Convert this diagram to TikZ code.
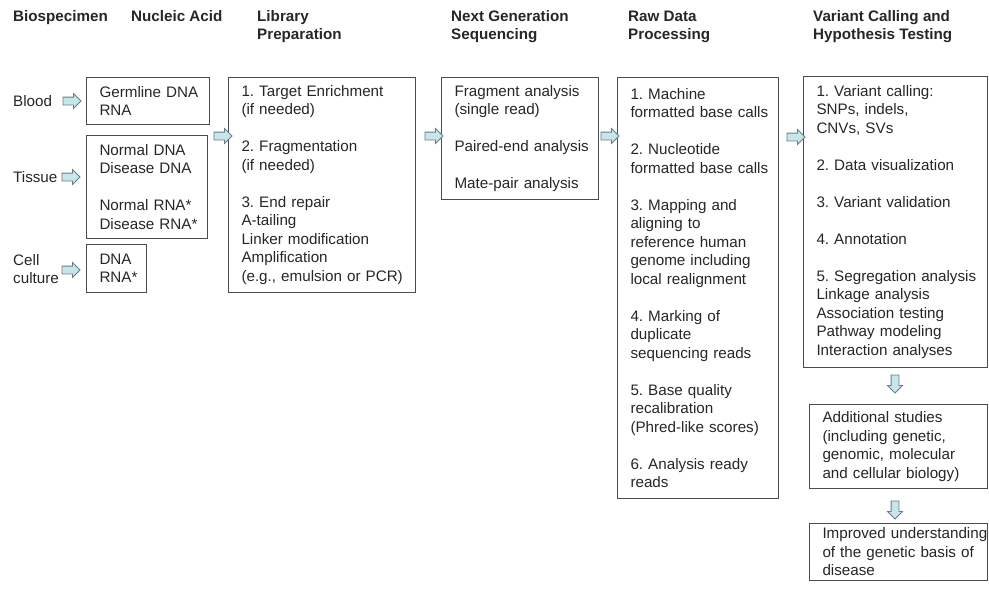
\documentclass[tikz,border=0pt]{standalone}
\usepackage{fontspec}
\setmainfont{Liberation Sans}
\usetikzlibrary{shapes.arrows}
\definecolor{arrfill}{HTML}{C6E6EA}
\definecolor{arrline}{HTML}{6C7C84}
\newcommand{\nohyph}{\hyphenpenalty=10000\relax\exhyphenpenalty=10000\relax}

\begin{document}
\begin{tikzpicture}[x=1pt,y=-1pt,
  txt/.style={font=\fontsize{15.2}{18.5}\selectfont\nohyph, text=black!85, inner sep=0pt, align=left},
  hdr/.style={txt, font=\fontsize{15.2}{18.5}\selectfont\bfseries, anchor=base west},
  box/.style={txt, draw=black!70, line width=1pt, anchor=north west, inner xsep=13pt},
  arr/.style={single arrow, draw=arrline, fill=arrfill, line width=0.8pt, minimum height=18pt, inner xsep=0pt, inner ysep=3.5pt, single arrow head extend=3.5pt, single arrow head indent=0pt}]
\useasboundingbox (0,0) rectangle (989,590);
\node[hdr] (hbio) at (13,21) {Biospecimen};
\node[hdr] (hnuc) at (131,21) {Nucleic Acid};
\node[hdr] (hlib) at (257,39.5) {Library\\Preparation};
\node[hdr] (hngs) at (451,39.5) {Next Generation\\Sequencing};
\node[hdr] (hraw) at (628,39.5) {Raw Data\\Processing};
\node[hdr] (hvar) at (813,39.5) {Variant Calling and\\Hypothesis Testing};
\node[txt, anchor=west] (blood) at (13,101) {Blood};
\node[txt, anchor=west] (tissue) at (13,177) {Tissue};
\node[txt, anchor=west] (cell) at (13,269) {Cell\\culture};
\node[box, text width=97pt, minimum height=47pt] (germ) at (86,77) {Germline~DNA\\RNA};
\node[box, text width=95pt, minimum height=103pt] (tis) at (86,135) {Normal~DNA\\Disease~DNA\\[18.5pt]Normal~RNA*\\Disease~RNA*};
\node[box, text width=34pt, minimum height=48pt] (cul) at (86,244) {DNA\\RNA*};
\node[box, text width=161pt, minimum height=215pt] (lib) at (228,77) {1.~Target~Enrichment\\(if~needed)\\[18.5pt]2.~Fragmentation\\(if~needed)\\[18.5pt]3.~End~repair\\A-tailing\\Linker~modification\\Amplification\\(e.g.,~emulsion~or~PCR)};
\node[box, text width=131pt, minimum height=122pt] (ngs) at (441,77) {Fragment~analysis\\(single~read)\\[18.5pt]Paired-end~analysis\\[18.5pt]Mate-pair~analysis};
\node[box, text width=135pt, minimum height=421pt] (raw) at (617,77) {1.~Machine\\formatted~base~calls\\[18.5pt]2.~Nucleotide\\formatted~base~calls\\[18.5pt]3.~Mapping~and\\aligning~to\\reference~human\\genome~including\\local~realignment\\[18.5pt]4.~Marking~of\\duplicate\\sequencing~reads\\[18.5pt]5.~Base~quality\\recalibration\\(Phred-like~scores)\\[18.5pt]6.~Analysis~ready\\reads};
\node[box, text width=158pt, minimum height=291pt] (var) at (803,76) {1.~Variant~calling:\\SNPs,~indels,\\CNVs,~SVs\\[18.5pt]2.~Data~visualization\\[18.5pt]3.~Variant~validation\\[18.5pt]4.~Annotation\\[18.5pt]5.~Segregation~analysis\\Linkage~analysis\\Association~testing\\Pathway~modeling\\Interaction~analyses};
\node[box, text width=152pt, minimum height=84pt] (add) at (809,404) {Additional~studies\\(including~genetic,\\genomic,~molecular\\and~cellular~biology)};
\node[box, text width=152pt, minimum height=57pt] (imp) at (809,523) {Improved~understanding\\of~the~genetic~basis~of\\disease};
\node[arr] (ablood) at (70,101) {};
\node[arr] (atis) at (69,177) {};
\node[arr] (acul) at (69,270) {};
\node[arr] (alib) at (221,136) {};
\node[arr] (angs) at (432,136) {};
\node[arr] (araw) at (608,136) {};
\node[arr] (avar) at (794,137) {};
\node[arr, rotate=-90] (aadd) at (895,382) {};
\node[arr, rotate=-90] (aimp) at (895,508) {};
\end{tikzpicture}
\end{document}
